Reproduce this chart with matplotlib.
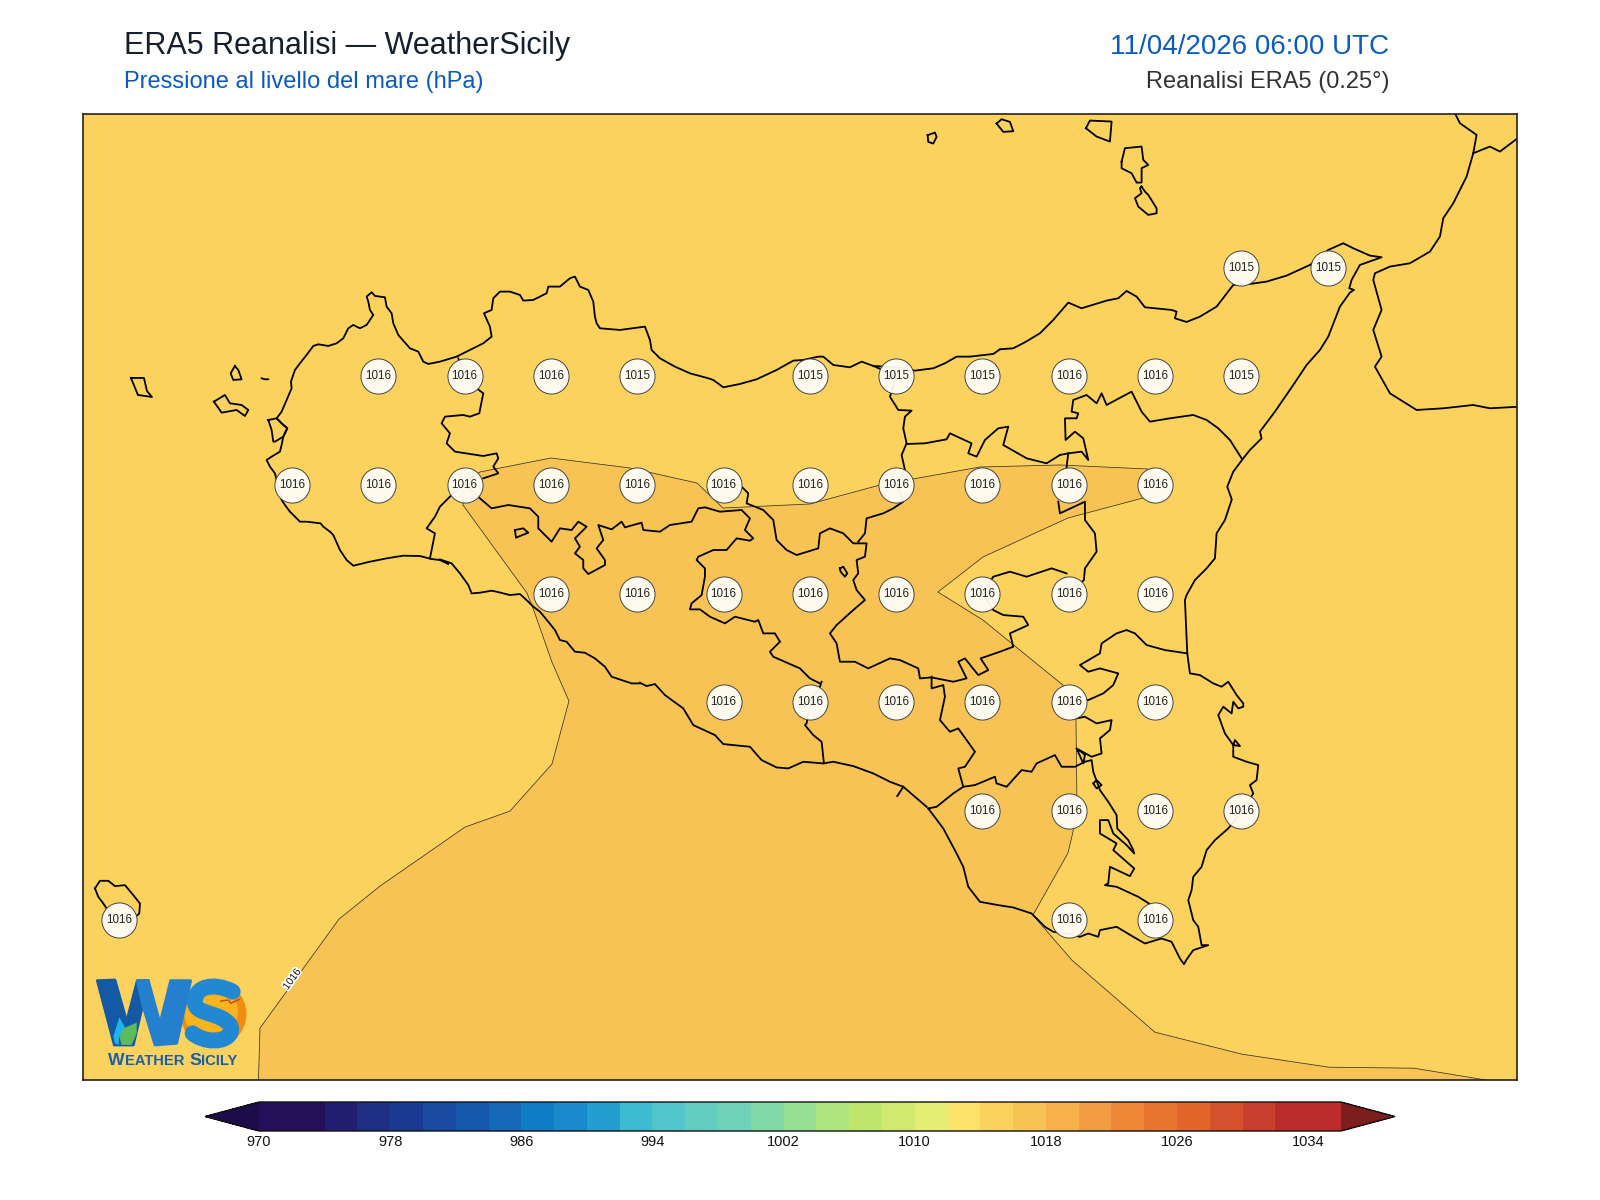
import numpy as np
import matplotlib
matplotlib.use("Agg")
import matplotlib.pyplot as plt
import matplotlib.patheffects as pe
from matplotlib.colors import ListedColormap, BoundaryNorm
from matplotlib.cm import ScalarMappable
from matplotlib.patches import Circle, Polygon, PathPatch
from matplotlib.path import Path

plt.rcParams["font.family"] = ["Liberation Sans", "DejaVu Sans"]


def crop(x0, y0, pts):
    return [(x0 + x / 3, y0 + y / 3) for x, y in pts]


def lonlat(pts):
    a = np.array(pts, dtype=float)
    return 12 + (a[:, 0] - 119.3) / 345.3, 38 - (a[:, 1] - 376.3) / 434.8


# ERA5 grid points shown on the map
row_lats = [38.25, 38.0, 37.75, 37.5, 37.25, 37.0, 36.75]
row_lons = [
    [15.25, 15.5],
    [12.75, 13.0, 13.25, 13.5, 14.0, 14.25, 14.5, 14.75, 15.0, 15.25],
    [12.5, 12.75, 13.0, 13.25, 13.5, 13.75, 14.0, 14.25, 14.5, 14.75, 15.0],
    [13.25, 13.5, 13.75, 14.0, 14.25, 14.5, 14.75, 15.0],
    [13.75, 14.0, 14.25, 14.5, 14.75, 15.0],
    [14.5, 14.75, 15.0, 15.25],
    [12.0, 14.75, 15.0],
]
row_values = [
    [1015, 1015],
    [1016, 1016, 1016, 1015, 1015, 1015, 1015, 1016, 1016, 1015],
    [1016] * 11,
    [1016] * 8,
    [1016] * 6,
    [1016] * 4,
    [1016] * 3,
]

# 1016 hPa isobar, the side above 1016 is closed below the map frame
isobar_1016 = [
    (259, 1095), (258.5, 1080), (260, 1028), (339, 919), (380, 886), (465, 827), (510, 811),
    (552, 764), (569, 701), (552, 662), (533, 608), (527, 593), (463, 505), (462, 485),
    (480, 472), (551, 458), (630, 468), (697, 483), (723, 508), (810, 504), (880, 485),
    (913, 479), (980, 467), (1060, 465), (1148, 469), (1157, 485), (1143, 498), (1068, 518),
    (983, 557), (938, 592), (983, 620), (1063, 685), (1076, 717), (1077, 800), (1073, 832),
    (1068, 853), (1033, 915), (1072, 960), (1155, 1032), (1242, 1054), (1329, 1067),
    (1414, 1068), (1487, 1080), (1530, 1095),
]

# coast of Sicily, clockwise from the Trapani south coast
coast_sw = crop(200, 260, [
    (745, 912), (720, 900), (695, 897), (660, 888), (610, 887), (560, 895), (510, 905), (460, 917),
    (440, 900), (420, 870), (400, 825), (390, 815), (370, 800), (362, 790), (345, 788), (320, 785),
    (300, 785), (285, 770), (270, 755), (255, 735), (245, 720), (230, 660), (225, 640), (210, 620),
    (200, 600), (215, 590), (240, 575), (245, 555), (250, 530), (262, 505), (245, 490), (230, 475),
    (245, 455), (260, 420), (275, 385), (273, 365), (285, 330), (300, 310), (320, 285), (340, 258),
    (355, 253), (385, 258), (410, 250), (430, 235), (445, 205), (460, 195), (480, 205), (500, 195),
    (520, 165), (510, 150), (505, 125), (500, 110), (515, 97), (525, 108), (555, 112), (560, 140),
    (575, 160), (580, 190), (595, 225), (630, 265), (655, 275), (670, 305), (685, 312), (720, 305),
    (770, 290), (810, 270), (850, 250), (875, 230), (870, 200), (852, 160), (875, 150), (880, 115),
    (900, 95), (930, 95), (960, 105), (970, 122), (1000, 120), (1040, 100), (1045, 80), (1080, 80),
    (1110, 55), (1125, 50), (1140, 80), (1165, 90), (1180, 125), (1185, 170), (1190, 190), (1200, 205),
    (1260, 210), (1335, 200), (1350, 240),
])
coast_north = crop(560, 340, [
    (270, 0), (275, 30), (300, 55), (345, 80), (390, 100), (445, 115), (460, 120), (490, 142),
    (540, 132), (590, 118), (650, 90), (700, 62), (730, 60), (775, 50), (790, 50), (820, 75),
    (870, 82), (905, 65), (940, 78), (1010, 82), (1065, 92), (1120, 85), (1155, 70), (1190, 50),
    (1230, 50), (1300, 42), (1320, 28),
])
coast_ne = crop(1000, 110, [
    (0, 718), (40, 715), (75, 697), (120, 670), (160, 630), (205, 578), (245, 595), (320, 572),
    (355, 565), (380, 543), (410, 560), (435, 592), (515, 600), (530, 605), (525, 625), (560, 636),
    (600, 620), (650, 590), (700, 525), (750, 522), (800, 515), (860, 497), (930, 465), (985, 420),
    (1030, 400), (1060, 415), (1110, 437), (1145, 442), (1080, 465), (1055, 510), (1048, 535),
    (1062, 540), (1050, 548), (1020, 590), (985, 680), (960, 720), (920, 765), (880, 825), (825, 905),
    (780, 965), (785, 985), (750, 1020), (730, 1045), (700, 1085), (682, 1130), (695, 1167),
])
coast_east = crop(900, 500, [
    (995, 0), (975, 60), (950, 100), (945, 175), (920, 205), (885, 240), (860, 285), (855, 300),
    (862, 460), (870, 520), (900, 525), (940, 550), (965, 560), (985, 545), (1010, 585), (1030, 610),
    (1030, 620), (1015, 625), (1000, 605), (995, 640), (970, 620), (955, 645), (975, 700), (1000, 735),
    (1020, 738), (1005, 720), (1000, 735), (1000, 770), (1040, 785), (1075, 795), (1070, 840),
    (1050, 855), (1060, 880), (1025, 935), (985, 985), (945, 1020), (920, 1050), (905, 1100),
    (880, 1130), (875, 1170), (865, 1200), (880, 1260), (895, 1280), (905, 1335), (925, 1335),
    (880, 1350), (860, 1378), (852, 1392), (840, 1375), (815, 1325), (785, 1315), (735, 1330),
    (700, 1310), (650, 1280), (600, 1290), (595, 1310), (565, 1300), (540, 1310), (500, 1300),
    (460, 1295), (435, 1280), (395, 1240), (340, 1222), (295, 1215), (240, 1205), (205, 1160),
    (190, 1100), (170, 1060), (130, 985), (85, 925),
])
coast_south = crop(640, 660, [
    (860, 440), (790, 380), (750, 365), (700, 340), (640, 318), (580, 305), (550, 310), (490, 305),
    (445, 325), (410, 322), (365, 300), (330, 260), (250, 252), (225, 225), (160, 195), (130, 145),
    (75, 105), (45, 72), (20, 78), (0, 68),
])
coast_sw2 = crop(440, 470, [
    (600, 640), (575, 640), (545, 630), (515, 620), (495, 590), (465, 565), (435, 548), (405, 545),
    (380, 515), (360, 510), (345, 480), (325, 455), (300, 425), (280, 410), (265, 395), (240, 372),
    (210, 375), (170, 365), (155, 362), (120, 368), (95, 370), (85, 345), (60, 310), (35, 280), (0, 268),
])

# province borders
border_trapani_n = crop(200, 260, [
    (775, 295), (790, 330), (830, 385), (850, 400), (838, 460), (810, 470), (790, 465), (735, 470),
    (725, 490), (750, 520), (740, 550), (765, 575), (850, 588), (890, 580), (895, 595), (880, 620),
    (895, 640), (850, 655),
])
border_trapani_s = crop(200, 260, [
    (795, 670), (750, 710), (720, 740), (705, 770), (680, 805), (705, 820), (690, 895),
])
border_agrigento = crop(440, 470, [
    (75, 40), (120, 85), (155, 115), (205, 105), (270, 115), (295, 140), (295, 175), (335, 215),
    (360, 175), (395, 180), (415, 155), (440, 170), (405, 205), (420, 230), (405, 250), (430, 270),
    (430, 295), (445, 312), (495, 285), (495, 270), (470, 235), (490, 210), (475, 165), (515, 178),
    (545, 155), (555, 172), (605, 158), (610, 180), (660, 185), (690, 165), (755, 155), (775, 115),
    (795, 112), (840, 125), (905, 120), (930, 145), (915, 180), (940, 205), (930, 212), (890, 205),
    (860, 240), (820, 240), (775, 260), (770, 270), (795, 295), (795, 320), (785, 375), (755, 400),
    (750, 418), (780, 418), (810, 440), (855, 460), (885, 440), (945, 455), (955, 450), (970, 490),
    (1005, 490), (1020, 515),
])
border_agrigento2 = crop(560, 340, [
    (660, 905), (630, 935), (640, 950), (720, 985), (750, 1015), (780, 1030),
])
border_licata = crop(640, 660, [
    (545, 65), (540, 80), (520, 110), (505, 160), (500, 190), (495, 195), (520, 225), (545, 245), (552, 310),
])
border_enna = crop(560, 340, [
    (490, 433), (540, 435), (565, 460), (560, 490), (610, 510), (640, 540), (650, 600), (680, 630),
    (710, 645), (775, 625), (780, 580), (810, 565), (850, 580), (880, 610), (920, 610), (915, 650),
    (890, 660), (895, 700), (880, 720), (890, 750), (915, 780), (880, 810), (830, 855), (810, 880),
    (830, 910), (840, 965), (885, 965), (925, 985), (990, 955), (1020, 960), (1075, 985), (1080, 1015),
    (1115, 1012), (1180, 1025), (1220, 1015), (1195, 965), (1215, 955), (1255, 1005), (1285, 990),
    (1262, 955), (1320, 935), (1360, 920), (1350, 880), (1405, 855), (1390, 830), (1330, 825),
    (1300, 810), (1268, 760), (1300, 710), (1350, 695), (1400, 710), (1475, 685), (1520, 700),
])
border_etna = crop(900, 500, [
    (495, 235), (508, 280), (552, 240), (555, 205), (590, 155), (585, 100), (555, 60), (555, 5),
    (480, 40), (475, 5),
])
border_palermo = crop(560, 340, [
    (1010, 433), (1035, 390), (1025, 345), (1040, 310), (1030, 265), (1035, 230), (1055, 212),
    (1015, 210), (990, 170), (1010, 108), (940, 78),
])
border_palermo2 = crop(560, 340, [
    (1010, 433), (1030, 485), (1000, 505), (970, 520), (920, 535), (915, 580), (895, 605),
])
border_nebrodi = crop(560, 340, [
    (1040, 312), (1095, 310), (1160, 298), (1170, 280), (1235, 310), (1225, 340), (1250, 350),
    (1275, 300), (1315, 265), (1345, 260), (1330, 315), (1400, 355), (1460, 370), (1500, 345),
])
border_messina = crop(1000, 110, [
    (180, 1035), (205, 1030), (245, 1025), (265, 1050), (250, 985), (225, 965), (197, 990), (195, 925),
    (230, 925), (235, 910), (215, 905), (220, 870), (260, 855), (290, 880), (305, 850), (320, 885),
    (395, 845), (425, 905), (450, 935), (510, 925), (580, 915), (620, 930), (655, 955), (690, 990), (725, 1045),
])
border_messina2 = crop(1000, 110, [(205, 1030), (200, 1070), (208, 1120)])
border_caltanissetta = crop(900, 500, [
    (95, 530), (95, 565), (130, 555), (135, 590), (120, 660), (150, 695), (175, 685), (225, 755),
    (195, 800), (175, 805), (190, 860), (160, 880), (110, 920), (85, 925),
])
border_ragusa = crop(900, 500, [
    (190, 860), (225, 855), (285, 830), (290, 850), (320, 860), (365, 810), (395, 815), (410, 790),
    (465, 765), (485, 800), (525, 800), (555, 785), (575, 780), (580, 815), (600, 870), (625, 905),
    (650, 945), (652, 985), (685, 1020), (700, 1050), (703, 1060), (680, 1035), (640, 1000), (625, 960),
    (600, 960), (600, 1000), (650, 1030), (640, 1050), (680, 1085), (703, 1105), (690, 1128), (630, 1100),
    (625, 1150), (615, 1155), (650, 1160), (715, 1190), (755, 1215), (767, 1260),
])
border_lentini = crop(900, 500, [
    (508, 605), (530, 655), (555, 650), (590, 670), (635, 660), (630, 690), (600, 715), (605, 760),
    (575, 770), (535, 748), (555, 765), (550, 790), (530, 745),
])
border_catania = crop(900, 500, [
    (862, 460), (795, 450), (740, 435), (705, 400), (680, 390), (650, 400), (605, 430), (600, 460),
    (540, 495), (565, 515), (600, 505), (655, 520), (640, 555), (610, 580), (565, 600), (508, 605),
])
lake_pergusa = crop(560, 340, [(840, 685), (850, 680), (862, 700), (855, 710), (842, 695), (840, 685)])
lake_arancio = crop(440, 470, [(225, 180), (250, 175), (265, 188), (228, 203), (225, 180)])
pond_siracusa = crop(900, 500, [(580, 850), (590, 840), (605, 855), (590, 865), (580, 850)])
tick_gela = crop(640, 660, [(790, 380), (772, 408)])

# islands and Calabria
levanzo = crop(200, 260, [(105, 318), (92, 340), (100, 360), (125, 358), (115, 330), (105, 318)])
favignana = crop(200, 260, [
    (42, 425), (75, 405), (90, 430), (125, 435), (145, 450), (135, 468), (110, 450), (65, 458), (42, 425),
])
marettimo = [(131, 378), (144, 378), (147, 391), (152, 397), (138, 395), (131, 378)]
formica = crop(200, 260, [(185, 355), (195, 358), (205, 358)])
stagnone = crop(200, 260, [(205, 480), (230, 475), (245, 490), (262, 505), (250, 530), (225, 545), (220, 545), (215, 510), (205, 480)])
pantelleria = crop(90, 860, [
    (15, 85), (30, 62), (55, 62), (75, 78), (105, 75), (130, 105), (150, 130), (148, 160), (120, 185),
    (60, 160), (40, 130), (25, 110), (15, 85),
])
alicudi = crop(900, 112, [(83, 70), (105, 62), (110, 75), (100, 95), (85, 90), (83, 70)])
filicudi = crop(900, 112, [(290, 35), (305, 22), (330, 30), (340, 58), (310, 60), (290, 35)])
salina = crop(1000, 110, [(258, 55), (270, 32), (335, 35), (330, 95), (290, 80), (258, 55)])
lipari = crop(1000, 110, [
    (365, 155), (375, 115), (425, 110), (430, 150), (445, 165), (425, 175), (425, 218), (410, 218),
    (395, 190), (365, 175), (365, 155),
])
vulcano = crop(1000, 110, [
    (425, 230), (435, 245), (445, 255), (470, 295), (470, 310), (445, 315), (415, 290), (405, 265),
    (425, 250), (420, 235), (425, 230),
])
calabria = crop(1000, 110, [
    (1360, 0), (1380, 40), (1430, 75), (1420, 130), (1400, 200), (1360, 280), (1330, 325), (1320, 380),
    (1290, 425), (1230, 460), (1170, 470), (1125, 490), (1120, 510), (1145, 600), (1120, 660), (1145, 740),
    (1125, 770), (1170, 850), (1250, 900), (1330, 895), (1420, 885), (1470, 895), (1560, 890),
])
calabria2 = crop(1000, 110, [(1420, 130), (1470, 110), (1500, 125), (1560, 80)])

outlines = [
    coast_sw, coast_north, coast_ne, coast_east, coast_south, coast_sw2, border_trapani_n, border_trapani_s,
    border_agrigento, border_agrigento2, border_licata, border_enna, border_etna, border_palermo,
    border_palermo2, border_nebrodi, border_messina, border_messina2, border_caltanissetta, border_ragusa,
    border_lentini, border_catania, lake_pergusa, lake_arancio, pond_siracusa, tick_gela, levanzo, favignana,
    marettimo, formica, stagnone, pantelleria, alicudi, filicudi, salina, lipari, vulcano, calabria, calabria2,
]

# colour scale
levels = np.arange(970, 1038, 2)
cbar_ticks = np.arange(970, 1035, 8)
cbar_colors = [
    "#24105A", "#24105A", "#221F72", "#1E2E84", "#1A3A92", "#184A9F", "#1557AB", "#1569B8", "#0F7CC8",
    "#1A8ACF", "#249DD0", "#3DBBD2", "#52C5CB", "#62CDC0", "#6ED3B8", "#82D9A8", "#97E093", "#ADE67F",
    "#BEE56C", "#D2E96F", "#E5EC72", "#FBE26A", "#FCD25F", "#F7C355", "#F6B14A", "#F29D42", "#EE8838",
    "#E8752F", "#E2652C", "#D4512B", "#C83F2E", "#BC2C2C", "#BC2C2C",
]
color_under = "#1D0C4A"
color_over = "#7D1D1D"

W, H = 1600, 1200
fig = plt.figure(figsize=(16, 12), dpi=100, facecolor="white")
ax = fig.add_axes([83 / W, 1 - 1080 / H, 1434 / W, 966 / H])
ax.set_xlim(11.895, 16.048)
ax.set_ylim(36.382, 38.603)
ax.set_facecolor(cbar_colors[22])
ax.set_xticks([])
ax.set_yticks([])
for s in ax.spines.values():
    s.set_linewidth(1.2)
    s.set_color("#222222")
    s.set_zorder(10)

lon, lat = lonlat(isobar_1016)
ax.fill(lon, lat, color=cbar_colors[23], lw=0, zorder=1)
ax.plot(lon, lat, color="#3a3328", lw=0.55, zorder=2)

for pts in outlines:
    lon, lat = lonlat(pts)
    ax.plot(lon, lat, color="black", lw=1.3, solid_joinstyle="round", zorder=3)

lon, lat = lonlat([(292, 979)])
ax.text(lon[0], lat[0], "1016", fontsize=7.5, rotation=54, ha="center", va="center", color="#111111",
        path_effects=[pe.withStroke(linewidth=2.5, foreground="white")], zorder=4)

for la, lons, vals in zip(row_lats, row_lons, row_values):
    ax.scatter(lons, [la] * len(lons), s=640, facecolor=(1, 0.995, 0.97, 0.95),
               edgecolor="#444444", linewidth=0.7, zorder=5)
    for lo, v in zip(lons, vals):
        ax.text(lo, la, str(v), fontsize=8.4, ha="center", va="center", color="#222222", zorder=6)

# colour bar, the axes box runs from tip to tip of the extensions
cax = fig.add_axes([205 / W, 1 - 1131 / H, 1190 / W, 29 / H])
cmap = ListedColormap(cbar_colors)
cmap.set_under(color_under)
cmap.set_over(color_over)
norm = BoundaryNorm(levels, cmap.N)
cb = fig.colorbar(ScalarMappable(norm=norm, cmap=cmap), cax=cax, orientation="horizontal", extend="both",
                  extendfrac=0.05, ticks=cbar_ticks, spacing="proportional")
cb.ax.minorticks_off()
cb.ax.tick_params(labelsize=10.5, length=0, pad=3, colors="#111111")
cb.outline.set_linewidth(1.0)
cb.outline.set_edgecolor("#111111")

# headers and logo on a pixel overlay
ov = fig.add_axes([0, 0, 1, 1], facecolor="none")
ov.set_xlim(0, W)
ov.set_ylim(H, 0)
ov.axis("off")
ov.text(124.5, 54, "ERA5 Reanalisi — WeatherSicily", fontsize=22, color="#16202c", va="baseline")
ov.text(124.5, 88, "Pressione al livello del mare (hPa)", fontsize=17, color="#0B5BBF", va="baseline")
ov.text(1389, 54, "11/04/2026 06:00 UTC", fontsize=20, color="#0B5BBF", ha="right", va="baseline")
ov.text(1389, 88, "Reanalisi ERA5 (0.25°)", fontsize=17, color="#333333", ha="right", va="baseline")

ov.add_patch(Circle((213.5, 1014), 33, facecolor="#F08C10", edgecolor="none", zorder=2))
ov.add_patch(Circle((211, 1012), 27, facecolor="#FBB31E", edgecolor="none", zorder=2))
ov.add_patch(Polygon(crop(80, 940, [(52, 122), (105, 120), (140, 245), (172, 122), (205, 122), (205, 200),
                                    (188, 195), (160, 315), (103, 315)]), facecolor="#1459A6",
                     edgecolor="#1459A6", lw=2, joinstyle="round", zorder=3))
ov.add_patch(Polygon(crop(80, 940, [(172, 122), (205, 122), (240, 250), (272, 122), (332, 122), (290, 310),
                                    (225, 315), (188, 195)]), facecolor="#2480CE",
                     edgecolor="#2480CE", lw=2, joinstyle="round", zorder=3))
ov.add_patch(Polygon(crop(80, 940, [(100, 290), (118, 232), (135, 262), (118, 290), (115, 315), (105, 310)]),
                     facecolor="#1CB5EC", zorder=4))
ov.add_patch(Polygon(crop(80, 940, [(118, 290), (130, 265), (170, 248), (170, 280), (155, 315), (125, 315)]),
                     facecolor="#5CBB5C", zorder=4))
s_pts = crop(80, 940, [(458, 155), (400, 125), (340, 140), (345, 190), (350, 225), (420, 215), (450, 255),
                       (470, 300), (390, 320), (338, 280)])
s_codes = [Path.MOVETO] + [Path.CURVE4] * 9
ov.add_patch(PathPatch(Path(s_pts, s_codes), facecolor="none", edgecolor="#2288D2", lw=11.5, capstyle="round", zorder=5))
ov.plot(*zip(*crop(80, 940, [(422, 183), (445, 180), (452, 190), (478, 178)])), color="#C8501A", lw=1.1, zorder=6)
for x, part, size in [(108, "W", 12.6), (124.5, "EATHER", 10.65), (189.4, "S", 12.6), (201.1, "ICILY", 10.65)]:
    ov.text(x, 1065, part, fontsize=size, fontweight="bold", color="#1A5FA8", ha="left", va="baseline")

fig.savefig("out.png", dpi=100)
